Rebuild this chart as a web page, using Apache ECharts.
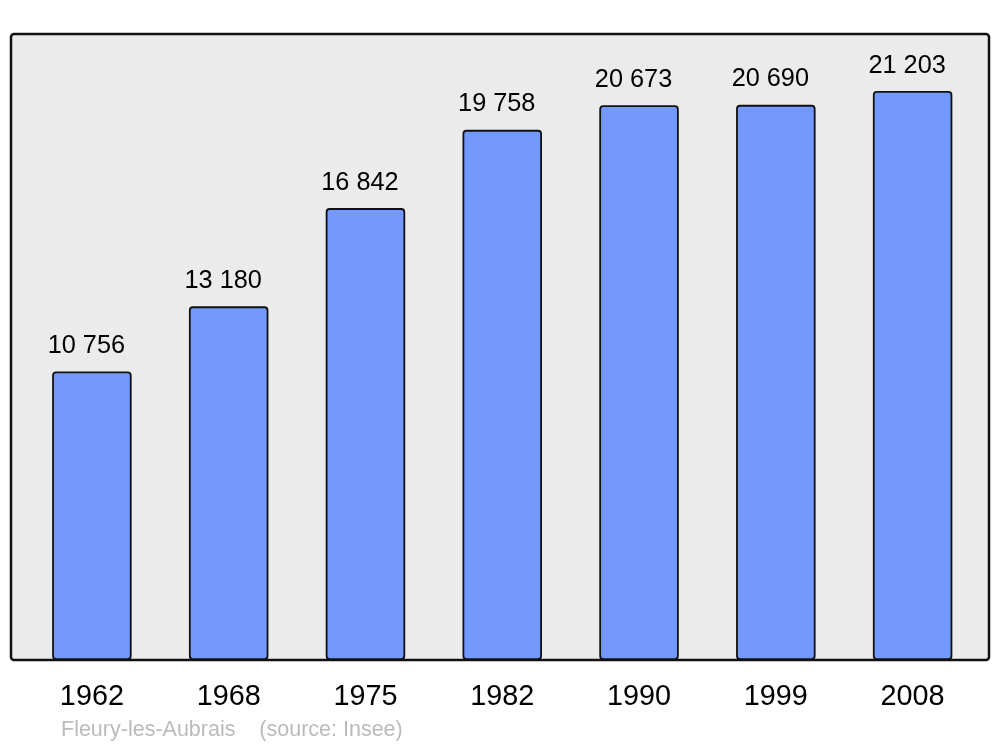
<!DOCTYPE html>
<html><head><meta charset="utf-8">
<script src="https://cdn.jsdelivr.net/npm/echarts@6/dist/echarts.min.js"></script>
<style>html,body{margin:0;padding:0;background:#fff}#c{width:1000px;height:747px}</style>
</head><body><div id="c"></div>
<script>
const years = ['1962','1968','1975','1982','1990','1999','2008'];
const population = [10756, 13180, 16842, 19758, 20673, 20690, 21203];
const footer = 'Fleury-les-Aubrais    (source: Insee)';

const chart = echarts.init(document.getElementById('c'), null, {renderer:'canvas'});
const fmt = v => String(v).replace(/\B(?=(\d{3})+(?!\d))/g, ' ');
chart.setOption({
  animation:false,
  textStyle:{fontFamily:'Liberation Sans, Arial, sans-serif'},
  graphic:[
    {type:'rect', z:-10, shape:{x:11,y:34,width:978,height:626,r:3},
     style:{fill:'#ebebeb', stroke:'#111', lineWidth:2.5}},
    {type:'text', left:61, top:719, style:{text:footer, fill:'#bbbbbb', font:'21.5px "Liberation Sans", Arial, sans-serif'}}
  ],
  grid:{left:23.5, top:34, width:957.5, height:626},
  xAxis:{type:'category', data:years, axisLine:{show:false}, axisTick:{show:false},
    axisLabel:{color:'#000', fontSize:28.8, margin:23, offset:[-1.5,0]}},
  yAxis:{type:'value', min:0, max:23330, show:false, splitLine:{show:false}},
  series:[{type:'bar', data:population, barWidth:79.5,
    itemStyle:{color:'#7399ff', borderColor:'#111', borderWidth:1.8, borderRadius:3},
    label:{show:true, position:'top', distance:13, offset:[-5.5,0], color:'#000', fontSize:25.3, formatter:p=>fmt(p.value)}}]
});
</script></body></html>
